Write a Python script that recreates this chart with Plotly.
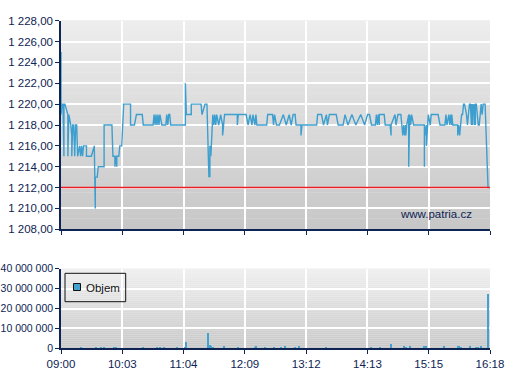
import plotly.graph_objects as go
import pandas as pd

DAY = "2024-01-02 "

# ---- data -------------------------------------------------------------
price_times = [
    "09:00", "09:00", "09:01", "09:02", "09:03", "09:03", "09:04", "09:07", "09:07", "09:08",
    "09:10", "09:11", "09:11", "09:12", "09:13", "09:14", "09:15", "09:16", "09:17", "09:19",
    "09:20", "09:21", "09:22", "09:23", "09:26", "09:26", "09:31", "09:34", "09:35", "09:35",
    "09:37", "09:38", "09:44", "09:44", "09:52", "09:53", "09:55", "09:55", "09:56", "09:57",
    "09:57", "09:59", "10:00", "10:02", "10:04", "10:11", "10:11",
    "10:15", "10:17", "10:23", "10:24", "10:34", "10:35", "10:36", "10:37", "10:38", "10:39",
    "10:40", "10:41", "10:43", "10:47", "10:48", "10:49", "10:50", "10:51", "10:52", "11:07",
    "11:07", "11:08", "11:13", "11:13", "11:23",
    "11:24", "11:27", "11:29", "11:31", "11:31", "11:32", "11:32", "11:33", "11:35", "11:36",
    "11:37", "11:38", "11:39", "11:41", "11:43", "11:45", "11:45", "11:46", "11:47", "12:00",
    "12:00", "12:01", "12:09", "12:11", "12:13", "12:15", "12:16", "12:18", "12:19", "12:20",
    "12:30", "12:31",
    "12:36", "12:37", "12:38", "12:40", "12:43", "12:47", "12:50", "12:53", "12:55", "12:57",
    "12:59", "13:00", "13:05", "13:05", "13:06", "13:21", "13:22", "13:26", "13:28", "13:31",
    "13:32", "13:34", "13:41", "13:43",
    "13:48", "13:50", "13:53", "13:57", "14:01", "14:06", "14:10", "14:13", "14:15", "14:17",
    "14:21", "14:22", "14:23", "14:24", "14:25", "14:25", "14:30", "14:31", "14:36", "14:37",
    "14:37", "14:41", "14:42", "14:44", "14:46", "14:47", "14:48", "14:49", "14:50", "14:51",
    "14:52", "14:52", "14:53", "14:55", "14:55", "14:56",
    "14:57", "14:58", "15:00", "15:11", "15:11", "15:11", "15:12", "15:13", "15:13", "15:14",
    "15:15", "15:17", "15:18", "15:25", "15:27", "15:32", "15:33", "15:34", "15:36", "15:37",
    "15:38", "15:39", "15:39", "15:40", "15:45", "15:45", "15:46", "15:47", "15:48", "15:49",
    "15:50", "15:51", "15:52", "15:54", "15:55", "15:57", "15:58", "15:59", "15:59", "16:00",
    "16:00", "16:01", "16:01", "16:02", "16:02", "16:03", "16:03", "16:04", "16:06", "16:07",
    "16:09", "16:10", "16:11", "16:13", "16:16", "16:18",
]
price_values = [
    1225, 1219, 1220, 1220, 1215, 1220, 1220, 1219, 1215, 1219,
    1218, 1217, 1215, 1218, 1218, 1215, 1218, 1218, 1215, 1216,
    1215, 1216, 1215, 1216, 1216, 1215, 1215, 1216, 1210, 1213,
    1213, 1214, 1214, 1218, 1218, 1215, 1215, 1214, 1215, 1214,
    1215, 1215, 1216, 1216, 1220, 1220, 1218,
    1218, 1219, 1219, 1218, 1218, 1219, 1218, 1219, 1218, 1219,
    1218, 1219, 1218, 1218, 1219, 1218, 1219, 1219, 1218, 1218,
    1222, 1219, 1219, 1220, 1220,
    1219, 1220, 1220, 1213, 1215, 1213, 1216, 1215, 1219, 1218,
    1219, 1218, 1219, 1218, 1219, 1218, 1217, 1218, 1219, 1219,
    1218, 1219, 1219, 1218, 1219, 1218, 1219, 1218, 1219, 1218,
    1218, 1219,
    1219, 1218, 1219, 1218, 1218, 1219, 1218, 1219, 1218, 1219,
    1219, 1218, 1218, 1217, 1218, 1218, 1219, 1219, 1218, 1219,
    1218, 1219, 1219, 1218,
    1218, 1219, 1218, 1219, 1218, 1219, 1218, 1219, 1219, 1218,
    1218, 1219, 1218, 1219, 1218, 1219, 1219, 1218, 1218, 1217,
    1218, 1219, 1218, 1219, 1219, 1219, 1218, 1217, 1218, 1217,
    1218, 1217, 1218, 1219, 1214, 1219,
    1218, 1219, 1218, 1218, 1214, 1218, 1217, 1218, 1216, 1218,
    1219, 1218, 1219, 1219, 1218, 1218, 1219, 1218, 1219, 1218,
    1219, 1218, 1219, 1218, 1218, 1217, 1218, 1217, 1218, 1219,
    1219, 1220, 1220, 1219, 1218, 1220, 1220, 1218, 1220, 1218,
    1220, 1219, 1220, 1218, 1220, 1218, 1220, 1220, 1218, 1218,
    1220, 1219, 1220, 1220, 1212, 1212,
]

volume_times = [
    "09:20", "09:22", "09:36", "09:41", "09:44", "09:54", "09:56", "10:24", "10:38", "10:41",
    "10:45", "10:58", "11:07", "11:08", "11:30", "11:32", "11:33", "11:35", "11:46", "12:01",
    "12:09", "12:18", "12:19", "12:28", "12:38", "12:45", "12:49", "12:59", "13:03", "13:31",
    "14:17", "14:26", "14:37", "14:50", "14:52", "14:56", "15:11", "15:12", "15:13", "15:31",
    "15:45", "15:46", "15:48", "15:58", "16:04", "16:06", "16:09", "16:16",
]
volume_values = [
    400000, 300000, 800000, 600000, 900000, 500000, 800000, 400000, 500000, 600000,
    400000, 700000, 700000, 3200000, 7700000, 2000000, 1200000, 800000, 1200000, 600000,
    300000, 800000, 1200000, 500000, 500000, 500000, 1200000, 500000, 1200000, 500000,
    500000, 500000, 2200000, 1200000, 800000, 1200000, 1200000, 1200000, 1200000, 1200000,
    1200000, 1200000, 1000000, 1200000, 500000, 500000, 1300000, 27300000,
]

previous_close = 1212
x_start, x_end = "09:00", "16:18"
x_tick_labels = ["09:00", "10:03", "11:04", "12:09", "13:12", "14:13", "15:15", "16:18"]
price_ticks = list(range(1208, 1229, 2))
volume_ticks = [0, 10000000, 20000000, 30000000, 40000000]
volume_name = "Objem"
watermark = "www.patria.cz"

# ---- styling ----------------------------------------------------------
LINE_BLUE = "#3d9fcf"
BAR_BLUE = "#45a2cf"
NAVY = "#0e2454"
FONT = "Liberation Sans, Arial, sans-serif"

px = lambda hhmm: pd.Timestamp(DAY + hhmm)
t0, t1 = px(x_start), px(x_end)
n_ticks = len(x_tick_labels)
tickvals = [t0 + (t1 - t0) * i / (n_ticks - 1) for i in range(n_ticks)]

W, H = 507, 380
xdom = [61 / W, 490 / W]
ydom_top = [(H - 229.3) / H, (H - 20.7) / H]
ydom_bot = [(H - 348.3) / H, (H - 268.7) / H]

fig = go.Figure()

fig.add_trace(go.Scatter(
    x=[px(t) for t in price_times], y=price_values, mode="lines",
    line=dict(color=LINE_BLUE, width=1.4), showlegend=False, hoverinfo="x+y",
    xaxis="x", yaxis="y",
))
fig.add_trace(go.Bar(
    x=[px(t) for t in volume_times], y=volume_values, width=70000, name=volume_name,
    marker=dict(color=BAR_BLUE, line=dict(width=0)), showlegend=False,
    xaxis="x2", yaxis="y2",
))

# gradient backgrounds
shapes = []
N = 40
for ax_suffix, top_c, bot_c in (("", (237, 237, 237), (199, 199, 199)),
                                ("2", (240, 240, 240), (199, 199, 199))):
    for i in range(N):
        f = (i + 0.5) / N
        c = tuple(round(top_c[k] + (bot_c[k] - top_c[k]) * f) for k in range(3))
        shapes.append(dict(
            type="rect", xref="x%s domain" % ax_suffix, yref="y%s domain" % ax_suffix,
            x0=0, x1=1, y0=1 - (i + 1) / N, y1=1 - i / N + 0.002,
            fillcolor="rgb(%d,%d,%d)" % c, line=dict(width=0), layer="below",
        ))
# previous close reference line
shapes.append(dict(
    type="line", xref="x domain", yref="y", x0=0, x1=1, y0=previous_close, y1=previous_close,
    line=dict(color="#ee1c25", width=1.5), layer="above",
))
# legend box for the volume series
shapes.append(dict(type="rect", xref="paper", yref="paper",
                   x0=65 / W, x1=125.7 / W, y0=(H - 301.7) / H, y1=(H - 273.3) / H,
                   line=dict(color="#111111", width=1), fillcolor="rgba(0,0,0,0)", layer="above"))
shapes.append(dict(type="rect", xref="paper", yref="paper",
                   x0=73.5 / W, x1=80.5 / W, y0=(H - 290.5) / H, y1=(H - 283.5) / H,
                   line=dict(color="#111111", width=1), fillcolor=BAR_BLUE, layer="above"))

axis_common = dict(
    showline=True, linecolor=NAVY, linewidth=1.5, ticks="outside", tickcolor=NAVY,
    ticklen=4, tickwidth=1, showgrid=True, gridcolor="#ffffff", gridwidth=1.5,
    zeroline=False, automargin=False,
)
tick_font = dict(family=FONT, size=11.5, color=NAVY)

fig.update_layout(
    template="none",
    width=W, height=H, margin=dict(l=0, r=0, t=0, b=0, pad=0),
    paper_bgcolor="white", plot_bgcolor="rgba(0,0,0,0)",
    separators=", ",
    font=dict(family=FONT, size=11, color=NAVY),
    shapes=shapes,
    showlegend=False,
    xaxis=dict(domain=xdom, anchor="y", range=[t0, t1], tickvals=tickvals,
               ticktext=[""] * n_ticks, tickfont=tick_font, **axis_common),
    yaxis=dict(domain=ydom_top, anchor="x", range=[price_ticks[0], price_ticks[-1]],
               tickvals=price_ticks, tickformat=",.2f", tickfont=tick_font, **axis_common),
    xaxis2=dict(domain=xdom, anchor="y2", range=[t0, t1], tickvals=tickvals,
                ticktext=x_tick_labels, tickfont=tick_font, **axis_common),
    yaxis2=dict(domain=ydom_bot, anchor="x2", range=[volume_ticks[0], volume_ticks[-1]],
                tickvals=volume_ticks, tickformat=",d",
                tickfont=dict(family=FONT, size=10.5, color=NAVY), **axis_common),
    annotations=[
        dict(text=watermark, xref="paper", yref="paper", x=473.5 / W, y=(H - 214) / H,
             xanchor="right", yanchor="middle", showarrow=False,
             font=dict(family=FONT, size=11.5, color=NAVY)),
        dict(text=volume_name, xref="paper", yref="paper", x=84 / W, y=(H - 288) / H,
             xanchor="left", yanchor="middle", showarrow=False,
             font=dict(family=FONT, size=11.5, color="#111111")),
    ],
    bargap=0,
)

fig.write_html(
    "out.html",
    config={"displayModeBar": False},
    post_script="document.body.style.margin='0';document.body.style.overflow='hidden';",
)
